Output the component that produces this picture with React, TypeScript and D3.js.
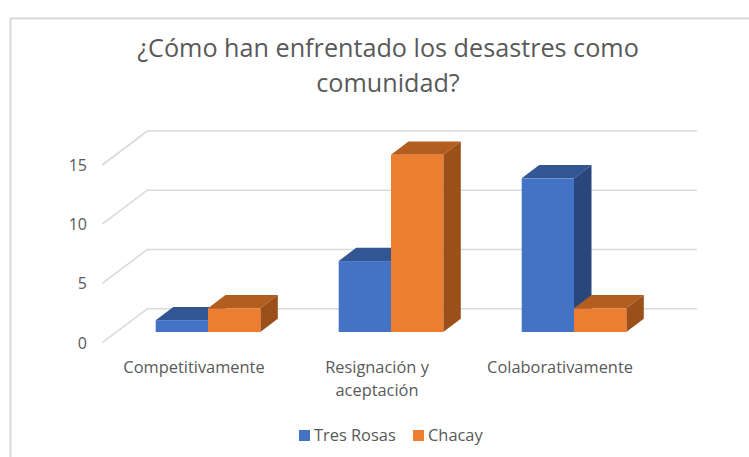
import React from "react";
import * as d3 from "d3";

const categories = ["Competitivamente", "Resignación y aceptación", "Colaborativamente"];
const categoryLines = [["Competitivamente"], ["Resignación y", "aceptación"], ["Colaborativamente"]];
const seriesNames = ["Tres Rosas", "Chacay"];
const tresRosas = [1, 6, 13];
const chacay = [2, 15, 2];
const yTicks = [0, 5, 10, 15];
const titleLines = ["¿Cómo han enfrentado los desastres como", "comunidad?"];

const FRONT = ["#4472c4", "#ed7d31"];
const TOP = ["#325594", "#b35d1f"];
const SIDE = ["#2a477d", "#9a5018"];
const FONT = "'Open Sans', sans-serif";
const GREY = "#595959";

const WALL_DX = 45;
const WALL_DY = 34;
const BAR_DX = 17.5;
const BAR_DY = 13.3;

export default function App() {
  const x0 = d3.scaleBand<string>().domain(categories).range([116.5, 665.5]);
  const yAxis = d3.scaleLinear().domain([0, 15]).range([342.7, 165]);
  const yBar = d3.scaleLinear().domain([0, 15]).range([332, 154.7]);
  const barW = 52.3;
  const series = [tresRosas, chacay];

  return (
    <svg
      width={749}
      height={457}
      style={{ position: "absolute", left: 0, top: 0, background: "#fff" }}
      fontFamily={FONT}
    >
      <path d="M10.5 457V18.5H749" fill="none" stroke="#d9d9d9" strokeWidth={2} />
      {titleLines.map((t, i) => (
        <text key={t} x={388} y={57 + i * 35} textAnchor="middle" fontSize={25.2} fill={GREY}>
          {t}
        </text>
      ))}
      {yTicks.map((t) => {
        const y = yAxis(t);
        return (
          <g key={t}>
            <path
              d={`M102.3 ${y}L${102.3 + WALL_DX} ${y - WALL_DY}H697`}
              fill="none"
              stroke="#d9d9d9"
              strokeWidth={1.6}
            />
            <text x={87} y={y + 6} textAnchor="end" fontSize={16} fill={GREY}>
              {t}
            </text>
          </g>
        );
      })}
      {categories.map((c, ci) => {
        const cx = (x0(c) as number) + x0.bandwidth() / 2;
        return (
          <g key={c}>
            {series.map((vals, si) => {
              const l = cx - barW + si * barW;
              const r = l + barW;
              const top = yBar(vals[ci]);
              const base = yBar(0);
              return (
                <g key={si}>
                  <path
                    d={`M${l} ${top}l${BAR_DX} ${-BAR_DY}H${r + BAR_DX}L${r} ${top}Z`}
                    fill={TOP[si]}
                  />
                  <path
                    d={`M${r} ${top}l${BAR_DX} ${-BAR_DY}V${base - BAR_DY}L${r} ${base}Z`}
                    fill={SIDE[si]}
                  />
                  <rect x={l} y={top} width={barW} height={base - top} fill={FRONT[si]} />
                </g>
              );
            })}
            {categoryLines[ci].map((line, li) => (
              <text
                key={line}
                x={cx - 14}
                y={373 + li * 23}
                textAnchor="middle"
                fontSize={16.4}
                fill={GREY}
              >
                {line}
              </text>
            ))}
          </g>
        );
      })}
      {seriesNames.map((name, i) => {
        const lx = [299, 413][i];
        return (
          <g key={name}>
            <rect x={lx} y={430} width={11} height={11} fill={FRONT[i]} />
            <text x={lx + 15} y={441} fontSize={16.4} fill={GREY}>
              {name}
            </text>
          </g>
        );
      })}
    </svg>
  );
}
